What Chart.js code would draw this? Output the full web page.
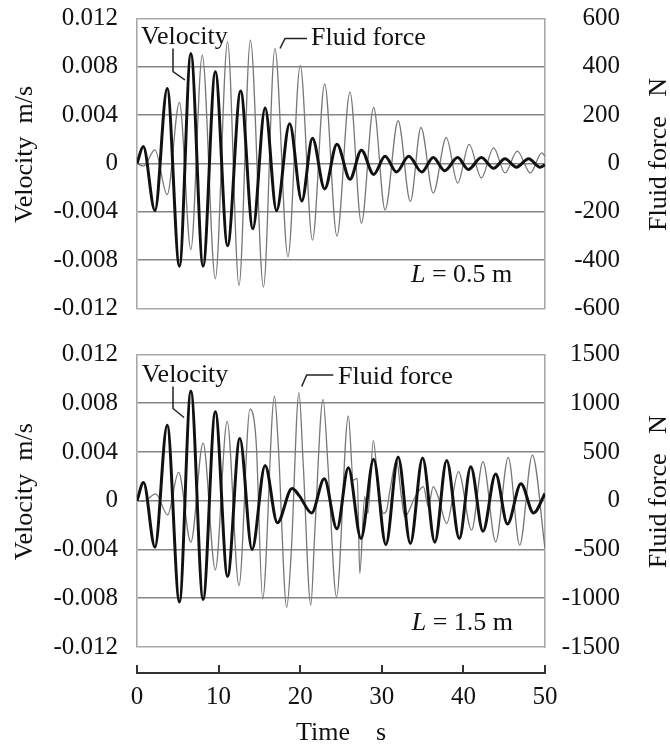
<!DOCTYPE html>
<html>
<head>
<meta charset="utf-8">
<script src="https://cdn.jsdelivr.net/npm/chart.js@4.4.1/dist/chart.umd.min.js"></script>
<style>
  html, body { margin: 0; padding: 0; background: #fff; }
  #wrap { position: relative; width: 670px; height: 751px; overflow: hidden; }
  canvas { position: absolute; left: 0; }
</style>
</head>
<body>
<div id="wrap">
  <canvas id="topPanel" width="670" height="330" style="top:0"></canvas>
  <canvas id="bottomPanel" width="670" height="330" style="top:336px"></canvas>
  <canvas id="timeAxis" width="670" height="96" style="top:655px"></canvas>
</div>
<script>
// L = 0.5 m : velocity (m/s) and fluid force (N) against time (s)
const topVelTime = [0, 0.77, 2.2, 3.7, 5.2, 6.6, 8.1, 9.6, 11.1, 12.7, 14.2, 15.7, 17.1, 18.7, 20.2, 21.5, 23.0, 24.5, 26.1, 27.5,
  29.0, 30.4, 31.8, 33.3, 34.9, 36.3, 37.7, 39.3, 40.6, 42.2, 43.7, 45.1, 46.5, 48.0, 49.4, 50];
const topVel = [0, 0.0014, -0.0039, 0.0062, -0.0085, 0.0091, -0.0085, 0.0076, -0.0068, 0.0060, -0.0054, 0.0046, -0.0039, 0.0033,
  -0.0031, 0.0021, -0.0021, 0.0016, -0.0013, 0.0011, -0.0009, 0.0006, -0.0007, 0.0006, -0.0007, 0.0005, -0.0006, 0.0005,
  -0.0005, 0.0005, -0.0004, 0.0004, -0.0003, 0.0004, -0.0003, -0.0001];
const topForceTime = [0, 0.8, 2.2, 3.7, 5.2, 6.6, 8.0, 9.6, 11.1, 12.5, 13.9, 15.5, 16.9, 18.5, 20.0, 21.5, 23.0, 24.5, 26.1, 27.5,
  29.0, 30.4, 32.0, 33.5, 34.8, 36.3, 37.9, 39.3, 40.7, 42.2, 43.7, 45.1, 46.6, 48.2, 49.6, 50];
const topForce = [0, -11, 56, -129, 253, -356, 448, -477, 503, -505, 510, -511, 475, -386, 406, -317, 329, -300, 295, -247,
  232, -192, 177, -157, 149, -122, 107, -81, 79, -60, 65, -39, 51, -39, 44, 30];

// L = 1.5 m
const bottomVelTime = [0, 0.8, 2.2, 3.7, 5.2, 6.6, 8.1, 9.6, 11.1, 12.6, 14.1, 15.7, 17.2, 19.0, 19.9, 21.4, 22.95, 24.5, 25.9, 27.45,
  29.0, 30.5, 32.0, 33.5, 35.0, 36.5, 37.95, 39.5, 40.9, 42.4, 43.95, 45.4, 47.05, 48.6, 50];
const bottomVel = [0, 0.0015, -0.0038, 0.0062, -0.0083, 0.0090, -0.0081, 0.0073, -0.0062, 0.0051, -0.0040, 0.0029, -0.0018,
  0.0010, 0.0004, -0.0010, 0.0018, -0.0023, 0.0027, -0.0031, 0.0034, -0.0036, 0.0036, -0.0035, 0.0035, -0.0034, 0.0033,
  -0.0031, 0.0028, -0.0025, 0.0022, -0.0019, 0.0014, -0.0010, 0.0006];
const bottomForceTime = [0, 0.8, 2.3, 3.75, 5.1, 6.6, 8.1, 9.6, 11.05, 12.5, 13.85, 14.6, 15.4, 16.85, 17.3, 18.35, 18.9, 19.85,
  20.35, 21.3, 21.8, 22.8, 23.4, 24.45, 25.9, 26.5, 27.0, 27.3, 27.9, 28.3, 28.96, 29.6, 30.2, 30.6, 31.0, 31.8, 32.4, 32.8,
  34.1, 35.1, 35.7, 36.3, 36.9, 37.95, 39.4, 41.0, 42.4, 43.96, 45.5, 46.9, 48.45, 50];
const bottomForce = [0, -5, 70, -144, 291, -425, 592, -708, 814, -870, 940, 605, -1005, 1074, 588, -1094, -533, 1108,
  410, -1070, -300, 1040, 366, -985, 869, 212, 229, -746, 41, -130, 616, 109, -130, -96, 109, 417, 41, -164,
  41, 144, -62, 144, 41, -233, 298, -301, 400, -421, 445, -455, 468, -489];

// axis ticks
const velTicks = [-0.012, -0.008, -0.004, 0, 0.004, 0.008, 0.012];
const velTickLabels = ['-0.012', '-0.008', '-0.004', '0', '0.004', '0.008', '0.012'];
const topForceTicks = [-600, -400, -200, 0, 200, 400, 600];
const bottomForceTicks = [-1500, -1000, -500, 0, 500, 1000, 1500];
const timeTicks = [0, 10, 20, 30, 40, 50];

const SERIF = '"Liberation Serif", "Times New Roman", serif';
const INK = '#111';
const FRAME = '#a8a8a8';

function pts(t, y) {
  return t.map((x, i) => ({ x: x, y: y[i] }));
}

// vertical axis titles, both read bottom to top
const sideTitles = {
  id: 'sideTitles',
  afterDraw(chart, args, o) {
    const { ctx, chartArea: a } = chart;
    const cy = (a.top + a.bottom) / 2 + o.shift;
    ctx.save();
    ctx.font = '26px ' + SERIF;
    ctx.fillStyle = INK;
    ctx.textAlign = 'center';
    ctx.textBaseline = 'middle';
    [[o.leftX, o.left], [o.rightX, o.right]].forEach(([x, txt]) => {
      ctx.save();
      ctx.translate(x, cy);
      ctx.rotate(-Math.PI / 2);
      ctx.fillText(txt, 0, 0);
      ctx.restore();
    });
    ctx.restore();
  }
};

// series labels with leader lines, and the L = ... note
const notes = {
  id: 'notes',
  afterDatasetsDraw(chart, args, o) {
    const { ctx, chartArea: a } = chart;
    ctx.save();
    ctx.fillStyle = INK;
    ctx.textAlign = 'left';
    ctx.textBaseline = 'alphabetic';
    ctx.font = '26px ' + SERIF;
    ctx.fillText('Velocity', a.left + o.vel[0], a.top + o.vel[1]);
    ctx.fillText('Fluid force', a.left + o.force[0], a.top + o.force[1]);
    ctx.strokeStyle = '#222';
    ctx.lineWidth = 1.5;
    [o.velLead, o.forceLead].forEach(path => {
      ctx.beginPath();
      path.forEach(([x, y], i) => {
        if (i) ctx.lineTo(a.left + x, a.top + y);
        else ctx.moveTo(a.left + x, a.top + y);
      });
      ctx.stroke();
    });
    let x = a.left + o.len[0];
    const y = a.top + o.len[1];
    ctx.font = 'italic 26px ' + SERIF;
    ctx.fillText('L', x, y);
    x += ctx.measureText('L').width;
    ctx.font = '26px ' + SERIF;
    ctx.fillText(o.lenText, x, y);
    ctx.restore();
  }
};

// drop the label overhang so layout.padding alone fixes the plot box
function noOverhang(s, w) {
  s.width = w;
  s.paddingTop = 0;
  s.paddingBottom = 0;
}

function makePanel(id, velT, velV, fT, fF, fTicks, padBottom, noteOpts) {
  return new Chart(document.getElementById(id), {
    type: 'line',
    data: {
      datasets: [
        { data: pts(velT, velV), yAxisID: 'yV', borderColor: INK, borderWidth: 3 },
        { data: pts(fT, fF), yAxisID: 'yF', borderColor: '#777', borderWidth: 1.3 }
      ]
    },
    options: {
      responsive: false,
      animation: false,
      events: [],
      layout: { padding: { top: 18.5, bottom: padBottom, left: 0, right: 50 } },
      elements: {
        point: { radius: 0 },
        line: { cubicInterpolationMode: 'monotone' }
      },
      plugins: {
        legend: { display: false },
        tooltip: { enabled: false },
        sideTitles: { leftX: 25, rightX: 659, shift: -9, left: 'Velocity  m/s', right: 'Fluid force   N' },
        notes: noteOpts
      },
      scales: {
        x: { type: 'linear', min: 0, max: 50, display: false },
        yV: {
          position: 'left',
          min: -0.012,
          max: 0.012,
          afterFit: s => noOverhang(s, 137),
          afterBuildTicks: s => { s.ticks = velTicks.map(v => ({ value: v })); },
          ticks: {
            callback: (v, i) => velTickLabels[i],
            font: { family: SERIF, size: 25 },
            color: INK,
            padding: 19
          },
          grid: {
            color: c => (c.index === 0 || c.index === velTicks.length - 1) ? FRAME : '#858585',
            lineWidth: 1.6,
            drawTicks: false
          },
          border: { color: FRAME, width: 1.6 }
        },
        yF: {
          position: 'right',
          min: fTicks[0],
          max: fTicks[fTicks.length - 1],
          afterFit: s => noOverhang(s, 75),
          afterBuildTicks: s => { s.ticks = fTicks.map(v => ({ value: v })); },
          ticks: {
            callback: v => String(v),
            crossAlign: 'far',
            font: { family: SERIF, size: 25 },
            color: INK
          },
          grid: { drawOnChartArea: false, drawTicks: false },
          border: { color: FRAME, width: 1.6 }
        }
      }
    },
    plugins: [sideTitles, notes]
  });
}

makePanel('topPanel', topVelTime, topVel, topForceTime, topForce, topForceTicks, 21.5, {
  vel: [4, 25], velLead: [[36, 30], [36, 53], [48, 61.5]],
  force: [174, 26.5], forceLead: [[143, 30], [148, 20], [170, 20]],
  len: [274, 263], lenText: ' = 0.5 m'
});

makePanel('bottomPanel', bottomVelTime, bottomVel, bottomForceTime, bottomForce, bottomForceTicks, 19, {
  vel: [4.7, 27], velLead: [[36, 32], [36, 54], [47, 63]],
  force: [201, 29], forceLead: [[164.7, 32], [169.7, 20.5], [196.3, 20.5]],
  len: [274.7, 275.5], lenText: ' = 1.5 m'
});

// shared time axis under the two panels
new Chart(document.getElementById('timeAxis'), {
  type: 'line',
  data: { datasets: [] },
  options: {
    responsive: false,
    animation: false,
    events: [],
    layout: { padding: { top: 10, left: 137, right: 125, bottom: 0 } },
    plugins: { legend: { display: false }, tooltip: { enabled: false } },
    scales: {
      x: {
        type: 'linear',
        min: 0,
        max: 50,
        afterFit: s => { s.height = 78; },
        afterBuildTicks: s => { s.ticks = timeTicks.map(v => ({ value: v })); },
        ticks: { font: { family: SERIF, size: 25 }, color: INK, padding: 9 },
        grid: { color: '#333', lineWidth: 2, drawTicks: false, drawOnChartArea: true },
        border: { color: '#333', width: 2 },
        title: {
          display: true,
          text: 'Time    s',
          font: { family: SERIF, size: 26 },
          color: INK,
          padding: { top: 0, bottom: 2 }
        }
      },
      y: { display: false, min: 0, max: 1 }
    }
  }
});
</script>
</body>
</html>
